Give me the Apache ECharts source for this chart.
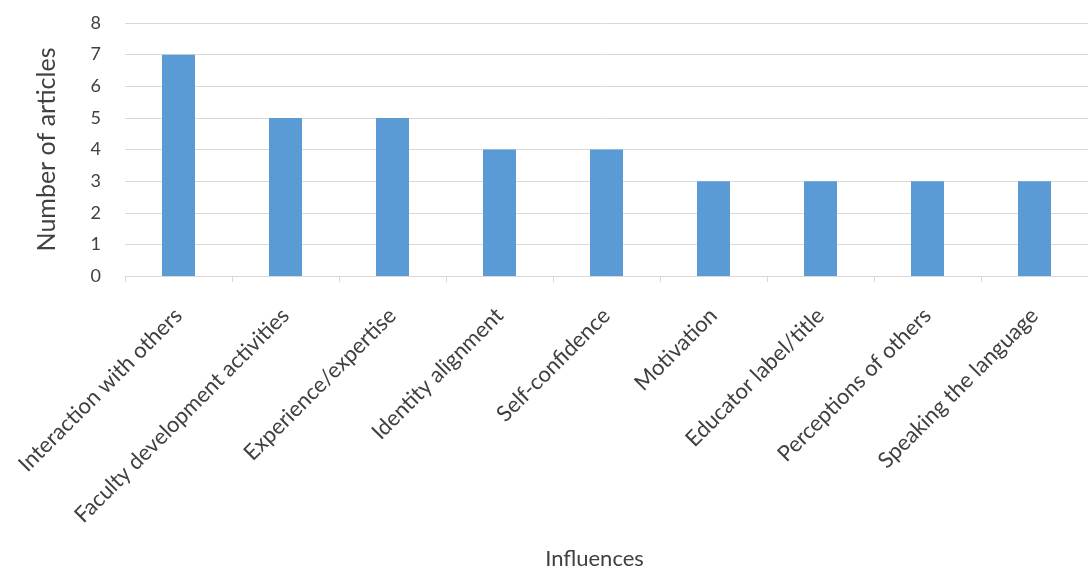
<!DOCTYPE html>
<html>
<head>
<meta charset="utf-8">
<script src="https://cdn.jsdelivr.net/npm/echarts@6/dist/echarts.min.js"></script>
<style>html,body{margin:0;padding:0;background:#fff;}#c{width:1088px;height:571px;}</style>
</head>
<body>
<div id="c"></div>
<script>
const categories = ["Interaction with others","Faculty development activities","Experience/expertise","Identity alignment","Self-confidence","Motivation","Educator label/title","Perceptions of others","Speaking the language"];
const values = [7,5,5,4,4,3,3,3,3];
const yTicks = {min:0, max:8, interval:1};

const chart = echarts.init(document.getElementById('c'), null, {renderer:'canvas'});
const font = 'Lato, "Open Sans", sans-serif';
chart.setOption({
  animation:false,
  backgroundColor:'#ffffff',
  grid:{left:125, top:23, width:966, height:261, containLabel:false},
  xAxis:{
    type:'category',
    data:categories,
    name:'Influences',
    nameLocation:'middle',
    nameGap:272,
    nameTextStyle:{fontFamily:font, fontSize:22, color:'#404040', padding:[0,24,0,0]},
    axisLine:{lineStyle:{color:'#d9d9d9', width:1}},
    axisTick:{show:true, length:6, lineStyle:{color:'#d9d9d9'}},
    axisLabel:{rotate:45, fontFamily:font, fontSize:22, color:'#404040', margin:36, interval:0}
  },
  yAxis:{
    type:'value',
    min:yTicks.min, max:yTicks.max, interval:yTicks.interval,
    name:'Number of articles',
    nameLocation:'middle',
    nameGap:66,
    nameTextStyle:{fontFamily:font, fontSize:25, color:'#404040'},
    axisLine:{show:false},
    axisTick:{show:false},
    axisLabel:{fontFamily:font, fontSize:18, color:'#404040', margin:24},
    splitLine:{lineStyle:{color:'#d9d9d9', width:1}}
  },
  series:[{
    type:'bar',
    data:values,
    barWidth:33,
    itemStyle:{color:'#5b9bd5'}
  }]
});
</script>
</body>
</html>
